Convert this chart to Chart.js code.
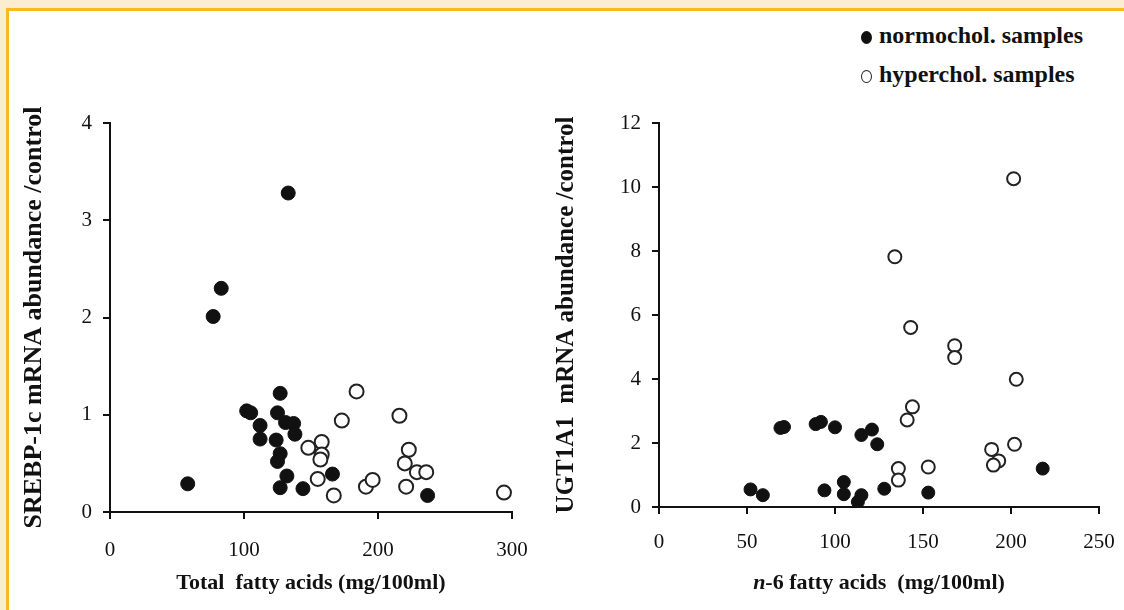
<!DOCTYPE html>
<html>
<head>
<meta charset="utf-8">
<script src="https://cdn.jsdelivr.net/npm/chart.js@4.4.0/dist/chart.umd.min.js"></script>
<style>
    html, body { margin: 0; padding: 0; width: 1124px; height: 610px; overflow: hidden; background: #fcecd0; }
    #frame { position: absolute; left: 6px; top: 8px; right: 0; bottom: 0; background: #fff;
             border-left: 3px solid #f4bc1c; border-top: 3px solid #f4bc1c; }
    .box { position: absolute; }
    #box_left { left: 0; top: 90px; width: 540px; height: 520px; }
    #box_right { left: 540px; top: 90px; width: 584px; height: 520px; }
    .legend { position: absolute; left: 861px; font-family: "Liberation Serif", serif; font-weight: bold;
              font-size: 24px; line-height: 28px; color: #111; white-space: nowrap; }
    .dot { display: inline-block; width: 11px; height: 13px; border-radius: 50%; margin-right: 7px;
           vertical-align: -1px; box-sizing: border-box; }
    .dot.filled { background: #111; }
    .dot.open { background: #fff; border: 1.5px solid #222; }
</style>
</head>
<body>
<div id="frame"></div>
<div class="box" id="box_left"><canvas id="chart_left"></canvas></div>
<div class="box" id="box_right"><canvas id="chart_right"></canvas></div>
<div class="legend" style="top:21px;"><span class="dot filled"></span>normochol. samples</div>
<div class="legend" style="top:60px;"><span class="dot open"></span>hyperchol. samples</div>

<script>
// left panel: SREBP-1c vs total fatty acids
var leftNormoX = [133, 83, 77, 58, 127, 102, 105, 125, 112, 112, 131, 137, 138, 124, 127, 125, 132, 127, 144, 166, 237];
var leftNormoY = [3.28, 2.3, 2.01, 0.29, 1.22, 1.04, 1.02, 1.02, 0.89, 0.75, 0.92, 0.91, 0.8, 0.74, 0.6, 0.52, 0.37, 0.25, 0.24, 0.39, 0.17];
var leftHyperX = [184, 173, 216, 148, 158, 158, 157, 155, 167, 191, 196, 223, 220, 229, 236, 221, 294];
var leftHyperY = [1.24, 0.94, 0.99, 0.66, 0.72, 0.59, 0.54, 0.34, 0.17, 0.26, 0.33, 0.64, 0.5, 0.41, 0.41, 0.26, 0.2];

// right panel: UGT1A1 vs n-6 fatty acids
var rightNormoX = [52, 59, 69, 71, 89, 92, 100, 115, 121, 124, 94, 105, 105, 115, 113, 128, 153, 218];
var rightNormoY = [0.55, 0.37, 2.47, 2.5, 2.59, 2.66, 2.49, 2.25, 2.42, 1.96, 0.52, 0.78, 0.4, 0.37, 0.16, 0.57, 0.45, 1.2];
var rightHyperX = [201.5, 134, 143, 168, 168, 203, 144, 141, 202, 189, 193, 190, 136, 136, 153];
var rightHyperY = [10.26, 7.82, 5.61, 5.04, 4.67, 3.99, 3.13, 2.72, 1.96, 1.8, 1.44, 1.31, 1.2, 0.84, 1.25];

var leftXTicks = [0, 100, 200, 300];
var leftYTicks = [0, 1, 2, 3, 4];
var rightXTicks = [0, 50, 100, 150, 200, 250];
var rightYTicks = [0, 2, 4, 6, 8, 10, 12];

var SERIF = '"Liberation Serif", "Times New Roman", serif';

function toPoints(xs, ys) {
    return xs.map(function(x, i) { return { x: x, y: ys[i] }; });
}

// x-axis title drawn by hand so that "n" can be italic
var xTitlePlugin = {
    id: 'xTitle',
    afterDraw: function(chart, args, opts) {
        var ctx = chart.ctx;
        var area = chart.chartArea;
        var parts = opts.parts || [];
        ctx.save();
        ctx.fillStyle = '#111';
        ctx.textBaseline = 'middle';
        ctx.textAlign = 'left';
        var fonts = parts.map(function(p) {
            return (p.italic ? 'italic ' : '') + 'bold ' + opts.size + 'px ' + SERIF;
        });
        var widths = parts.map(function(p, i) {
            ctx.font = fonts[i];
            return ctx.measureText(p.text).width;
        });
        var total = widths.reduce(function(a, b) { return a + b; }, 0);
        var x = (area.left + area.right) / 2 - total / 2;
        var y = chart.height - opts.bottom;
        parts.forEach(function(p, i) {
            ctx.font = fonts[i];
            ctx.fillText(p.text, x, y);
            x += widths[i];
        });
        ctx.restore();
    }
};

function makeChart(canvasId, cfg) {
    var filled = {
        label: 'normochol. samples',
        data: toPoints(cfg.normoX, cfg.normoY),
        backgroundColor: '#111',
        borderColor: '#111',
        borderWidth: 1,
        pointRadius: cfg.radius,
        pointHoverRadius: cfg.radius
    };
    var open = {
        label: 'hyperchol. samples',
        data: toPoints(cfg.hyperX, cfg.hyperY),
        backgroundColor: '#fff',
        borderColor: '#222',
        borderWidth: 2,
        pointRadius: cfg.radius,
        pointHoverRadius: cfg.radius
    };

    function fixedTicks(list) {
        return function(scale) {
            scale.ticks = list.map(function(v) { return { value: v }; });
        };
    }

    return new Chart(canvasId, {
        type: 'scatter',
        data: { datasets: [filled, open] },
        plugins: [xTitlePlugin],
        options: {
            responsive: true,
            maintainAspectRatio: false,
            animation: false,
            layout: { padding: { top: 33, right: cfg.padRight, left: 0, bottom: 0 } },
            plugins: {
                legend: { display: false },
                tooltip: { enabled: false },
                xTitle: { parts: cfg.xTitle, size: 22, bottom: 27 }
            },
            scales: {
                x: {
                    type: 'linear',
                    min: cfg.xTicks[0],
                    max: cfg.xTicks[cfg.xTicks.length - 1],
                    afterBuildTicks: fixedTicks(cfg.xTicks),
                    afterFit: function(s) {
                        s.height = cfg.xHeight;
                        s.paddingLeft = 0;
                        s.paddingRight = 0;
                    },
                    ticks: { color: '#111', font: { family: SERIF, size: 21 }, padding: cfg.xTickPad, maxRotation: 0 },
                    grid: { display: true, drawOnChartArea: false, drawTicks: true, tickLength: 7, color: '#111', lineWidth: 2 },
                    border: { display: true, color: '#111', width: 2 }
                },
                y: {
                    type: 'linear',
                    min: cfg.yTicks[0],
                    max: cfg.yTicks[cfg.yTicks.length - 1],
                    afterBuildTicks: fixedTicks(cfg.yTicks),
                    afterFit: function(s) { s.width = cfg.yWidth; },
                    ticks: { color: '#111', font: { family: SERIF, size: 21 }, padding: 11 },
                    grid: { display: true, drawOnChartArea: false, drawTicks: true, tickLength: 7, color: '#111', lineWidth: 2 },
                    border: { display: true, color: '#111', width: 2 },
                    title: {
                        display: true,
                        text: cfg.yTitle,
                        color: '#111',
                        font: { family: SERIF, size: cfg.yTitleSize, weight: 'bold' },
                        padding: { top: cfg.yTitlePad, bottom: 0 }
                    }
                }
            }
        }
    });
}

makeChart('chart_left', {
    normoX: leftNormoX, normoY: leftNormoY, hyperX: leftHyperX, hyperY: leftHyperY,
    xTicks: leftXTicks, yTicks: leftYTicks,
    xTitle: [{ text: 'Total  fatty acids (mg/100ml)' }],
    yTitle: 'SREBP-1c mRNA abundance /control',
    radius: 7, padRight: 28, xHeight: 98, yWidth: 110, xTickPad: 19, yTitlePad: 19, yTitleSize: 26
});

makeChart('chart_right', {
    normoX: rightNormoX, normoY: rightNormoY, hyperX: rightHyperX, hyperY: rightHyperY,
    xTicks: rightXTicks, yTicks: rightYTicks,
    xTitle: [{ text: 'n', italic: true }, { text: '-6 fatty acids  (mg/100ml)' }],
    yTitle: 'UGT1A1  mRNA abundance /control',
    radius: 6.5, padRight: 25, xHeight: 103, yWidth: 119, xTickPad: 16, yTitlePad: 12, yTitleSize: 25
});
</script>
</body>
</html>
